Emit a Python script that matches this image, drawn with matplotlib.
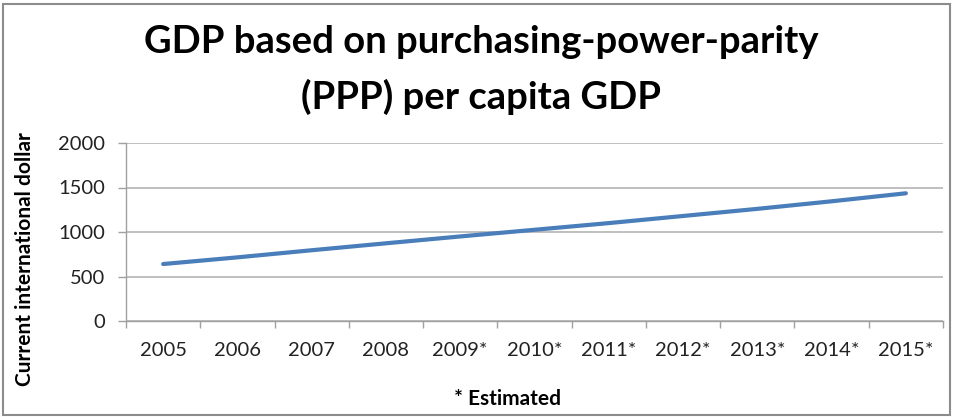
import matplotlib
matplotlib.use("Agg")
import matplotlib.pyplot as plt
from matplotlib.patches import Rectangle

plt.rcParams['font.family'] = ['Lato', 'DejaVu Sans']

years = ["2005", "2006", "2007", "2008", "2009*", "2010*",
         "2011*", "2012*", "2013*", "2014*", "2015*"]
gdp_ppp = [640, 715, 795, 873, 950, 1025, 1100, 1180, 1260, 1345, 1435]
y_ticks = [0, 500, 1000, 1500, 2000]

W, H = 954, 418
fig = plt.figure(figsize=(W / 100, H / 100), dpi=100)
fig.patch.set_facecolor("white")

# outer chart frame
fig.patches.append(Rectangle((3 / W, 3 / H), (W - 7) / W, (H - 7) / H,
                             transform=fig.transFigure, fill=False,
                             edgecolor="#8c8c8c", linewidth=1.5))

ax = fig.add_axes([126 / W, 1 - 321 / H, (943 - 126) / W, (321 - 143) / H])
x = list(range(len(years)))
ax.plot(x, gdp_ppp, color="#4A7EBB", linewidth=3, solid_capstyle="round")

ax.set_xlim(-0.5, len(years) - 0.5)
ax.set_ylim(0, 2000)
ax.set_yticks(y_ticks)
ax.set_yticklabels([str(v) for v in y_ticks])
ax.set_xticks(x)
ax.set_xticklabels(years)
# category boundaries carry the tick marks
ax.set_xticks([i - 0.5 for i in range(len(years) + 1)], minor=True)
ax.tick_params(axis="x", which="major", length=0, pad=15, labelsize=14.5,
               colors="#222222")
ax.tick_params(axis="x", which="minor", length=5, color="#a0a0a0", width=1)
ax.tick_params(axis="y", length=6, color="#a0a0a0", width=1, pad=9,
               labelsize=14.5, labelcolor="#222222")

ax.grid(axis="y", color="#b4b4b4", linewidth=1.2)
ax.set_axisbelow(True)
for s in ("top", "right"):
    ax.spines[s].set_visible(False)
for s in ("left", "bottom"):
    ax.spines[s].set_color("#a0a0a0")
    ax.spines[s].set_linewidth(1)

fig.text(481 / W, 1 - 53 / H, "GDP based on purchasing-power-parity",
         ha="center", va="baseline", fontsize=27.5, fontweight="bold")
fig.text(481 / W, 1 - 109 / H, "(PPP) per capita GDP",
         ha="center", va="baseline", fontsize=27.5, fontweight="bold")
fig.text(25 / W, 1 - 259 / H, "Current international dollar",
         ha="center", va="center", rotation=90, fontsize=15,
         fontweight="bold")
fig.text(508 / W, 1 - 399 / H, "* Estimated", ha="center", va="center",
         fontsize=15, fontweight="bold")

fig.savefig("out.png", dpi=100, facecolor="white")
